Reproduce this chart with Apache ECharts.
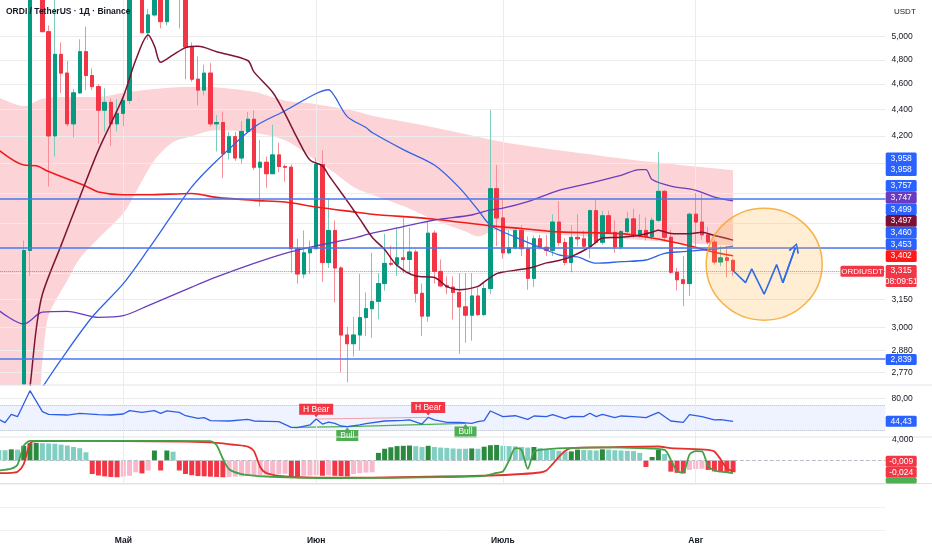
<!DOCTYPE html>
<html><head><meta charset="utf-8">
<script src="https://cdn.jsdelivr.net/npm/echarts@6/dist/echarts.min.js"></script>
<style>html,body{margin:0;padding:0;background:#fff}#c{width:932px;height:550px}</style>
</head><body><div id="c"></div>
<script>
// ---------- DATA ----------
const categories = [];
for (let k = 0; k < 143; k++) { const d = new Date(Date.UTC(2025, 3, 11 + k)); categories.push(d.toISOString().slice(0, 10)); }
const monthLabels = {'2025-05-01': 'Май', '2025-06-01': 'Июн', '2025-07-01': 'Июль', '2025-08-01': 'Авг'};
const candleStart = 4;
// [open, high, low, close]
const candles = [
[2.715,3.495,2.712,3.434],[3.434,5.450,3.285,5.420],[5.420,5.800,5.380,5.650],[5.650,5.700,5.040,5.044],
[5.044,5.100,3.842,4.200],[4.200,5.350,4.050,4.847],[4.847,4.950,4.530,4.690],[4.690,4.792,4.270,4.290],
[4.290,4.560,4.190,4.530],[4.530,4.977,4.520,4.870],[4.870,5.089,4.552,4.670],[4.670,4.728,4.552,4.580],
[4.580,4.600,4.143,4.394],[4.394,4.566,4.233,4.455],[4.455,4.486,4.126,4.290],[4.290,4.480,4.233,4.370],
[4.370,4.510,4.270,4.470],[4.470,5.480,4.440,5.420],[5.420,5.700,5.380,5.550],[5.550,5.600,5.030,5.035],
[5.035,5.250,4.971,5.195],[5.195,5.500,5.180,5.400],[5.400,5.450,5.074,5.134],[5.134,5.500,5.100,5.420],
[5.420,5.600,5.380,5.500],[5.500,5.650,5.074,5.450],[5.450,5.500,4.640,4.910],[4.910,4.950,4.620,4.640],
[4.640,4.829,4.432,4.552],[4.552,4.760,4.510,4.690],[4.690,4.773,4.270,4.290],[4.290,4.357,4.087,4.300],
[4.300,4.383,3.899,4.070],[4.080,4.230,4.030,4.194],[4.194,4.230,4.020,4.040],[4.040,4.310,4.000,4.233],
[4.233,4.380,4.233,4.325],[4.325,4.394,3.954,3.975],[3.975,4.170,3.710,4.010],[4.010,4.050,3.834,3.930],
[3.930,4.284,3.930,4.062],[4.062,4.150,3.940,3.980],[3.980,3.995,3.875,3.975],[3.975,3.995,3.303,3.445],
[3.445,3.505,3.240,3.295],[3.295,3.557,3.270,3.420],[3.420,3.495,3.295,3.445],[3.445,4.042,3.440,3.994],
[3.994,4.096,3.250,3.362],[3.362,3.762,3.330,3.557],[3.557,3.620,3.135,3.330],[3.330,3.340,2.772,2.960],
[2.960,3.003,2.724,2.915],[2.915,3.057,2.850,2.960],[2.960,3.295,2.880,3.052],[3.052,3.190,2.955,3.100],
[3.100,3.420,2.945,3.140],[3.140,3.300,3.043,3.240],[3.240,3.536,3.200,3.357],[3.357,3.462,3.340,3.352],
[3.352,3.576,3.283,3.390],[3.390,3.640,3.300,3.380],[3.380,3.576,3.300,3.425],[3.425,3.440,3.134,3.185],
[3.185,3.240,2.955,3.060],[3.060,3.610,3.030,3.540],[3.540,3.557,3.240,3.310],[3.310,3.380,3.220,3.227],
[3.227,3.280,3.180,3.220],[3.220,3.280,3.042,3.190],[3.190,3.300,2.864,3.110],[3.110,3.300,2.920,3.065],
[3.065,3.300,2.930,3.170],[3.170,3.220,3.060,3.068],[3.068,3.250,3.060,3.212],[3.212,4.394,3.180,3.828],
[3.828,3.990,3.460,3.636],[3.636,3.762,3.385,3.420],[3.420,3.560,3.410,3.450],[3.450,3.575,3.440,3.557],
[3.557,3.590,3.400,3.445],[3.445,3.520,3.205,3.270],[3.270,3.525,3.220,3.505],[3.505,3.530,3.440,3.453],
[3.453,3.530,3.400,3.435],[3.435,3.660,3.400,3.610],[3.610,3.745,3.460,3.482],[3.482,3.510,3.345,3.362],
[3.362,3.590,3.305,3.514],[3.514,3.660,3.460,3.505],[3.505,3.557,3.447,3.460],[3.460,3.690,3.387,3.683],
[3.683,3.760,3.470,3.484],[3.484,3.683,3.470,3.650],[3.650,3.683,3.536,3.545],[3.545,3.621,3.420,3.455],
[3.455,3.560,3.440,3.550],[3.550,3.675,3.540,3.630],[3.630,3.695,3.510,3.526],[3.526,3.660,3.510,3.557],
[3.557,3.640,3.495,3.520],[3.520,3.640,3.500,3.621],[3.621,4.084,3.610,3.810],[3.810,3.820,3.490,3.515],
[3.515,3.560,3.295,3.305],[3.305,3.330,3.201,3.262],[3.262,3.400,3.114,3.240],[3.240,3.670,3.170,3.660],
[3.660,3.800,3.460,3.610],[3.610,3.795,3.500,3.530],[3.530,3.580,3.470,3.485],[3.485,3.500,3.350,3.365],
[3.365,3.460,3.340,3.390],[3.390,3.462,3.275,3.375],[3.375,3.385,3.285,3.315]
];
const maroonLine = [[4,2.50],[5,2.70],[6,2.99],[7,3.18],[10,3.465],[13,3.77],[16,4.096],[20,4.50],[22,4.80],[24,5.015],[25,4.92],[26,4.78],[28,4.842],[30,4.905],[32,4.917],[35,4.87],[40,4.795],[41,4.70],[44,4.535],[46,4.365],[48,4.18],[50,4.025],[52,3.985],[53,3.92],[56,3.745],[58,3.63],[60,3.515],[62,3.44],[64,3.345],[67,3.283],[70,3.275],[72,3.224],[74,3.205],[77,3.224],[78,3.25],[80,3.297],[81,3.306],[84,3.322],[86,3.336],[88,3.36],[90,3.374],[92,3.397],[95,3.455],[97,3.51],[100,3.515],[103,3.527],[105,3.546],[106,3.558],[108,3.538],[111,3.536],[113,3.546],[115,3.525],[118,3.497]];
const blueLine = [[6,2.65],[7,2.70],[10,2.835],[15,3.055],[20,3.24],[24,3.44],[28,3.665],[31,3.84],[35,4.02],[41,4.265],[46,4.39],[51,4.525],[53,4.555],[54,4.50],[56,4.345],[59,4.262],[60,4.225],[65,4.10],[70,3.99],[74,3.835],[77,3.688],[79,3.59],[83,3.515],[86,3.468],[90,3.408],[93,3.395],[96,3.358],[100,3.367],[104,3.377],[107,3.417],[110,3.427],[113,3.437],[116,3.447],[118,3.46]];
const purpleLine = [[0,3.09],[4,3.018],[7,3.081],[11,3.086],[16,3.053],[20,3.062],[24,3.117],[31,3.22],[35,3.278],[41,3.357],[46,3.417],[51,3.462],[57,3.509],[60,3.54],[65,3.581],[70,3.623],[76,3.655],[79,3.688],[81,3.699],[85,3.742],[90,3.817],[95,3.866],[100,3.919],[103,3.958],[104,3.958],[105,3.89],[108,3.845],[112,3.817],[115,3.772],[118,3.747]];
const redLine = [[0,4.096],[4,3.99],[6,3.985],[8,3.945],[14,3.845],[16,3.806],[20,3.787],[24,3.787],[31,3.796],[35,3.77],[41,3.75],[46,3.739],[51,3.707],[57,3.675],[60,3.66],[70,3.628],[79,3.586],[84,3.569],[90,3.548],[100,3.537],[105,3.51],[111,3.463],[115,3.423],[118,3.402]];
const bandUpper = [[0,4.493],[4,4.426],[7,4.484],[11,4.498],[16,4.498],[21,4.538],[31,4.578],[35,4.573],[41,4.538],[46,4.467],[51,4.441],[57,4.389],[60,4.351],[70,4.263],[81,4.156],[90,4.096],[105,4.011],[118,3.954]];
const bandLower = [[0,2.60],[6,2.65],[7,2.829],[8,3.063],[11,3.258],[13,3.386],[16,3.507],[20,3.666],[22,3.803],[25,4.024],[28,4.155],[30,4.185],[35,4.242],[40,4.23],[46,4.168],[50,4.053],[54,3.935],[57,3.84],[60,3.788],[65,3.713],[70,3.623],[75,3.55],[77,3.52],[80,3.56],[90,3.53],[100,3.505],[110,3.48],[118,3.466]];
const hLevels = [3.757, 3.453, 2.839];
const lastPrice = 3.315;
const priceTicks = [5.0,4.8,4.6,4.4,4.2,4.0,3.8,3.6,3.45,3.3,3.15,3.0,2.88,2.77];
const priceTickLabels = ['5,000','4,800','4,600','4,400','4,200','','','','','','3,150','3,000','2,880','2,770'];
const zigzag = [[118,3.315],[120,3.245],[121,3.325],[123,3.180],[125,3.350],[126,3.245],[128,3.450]];
const circleCenter = [123, 3.352];
const rsi = [[0,47.7],[1,42.5],[2,55.5],[3,51.8],[5,92.3],[7,59.6],[8,55.5],[11,54.4],[13,57.1],[16,54.9],[18,54.4],[20,56.0],[21,61.2],[23,58.6],[25,61.2],[26,57.1],[27,60.7],[29,58.6],[30,53.3],[32,49.3],[33,50.3],[34,45.6],[37,45.1],[40,47.7],[41,45.1],[43,44.6],[45,44.0],[47,35.3],[48,34.7],[50,38.9],[51,48.2],[52,40.4],[53,43.5],[54,41.5],[55,37.3],[56,36.2],[58,38.9],[59,40.9],[62,45.1],[65,46.2],[66,46.7],[68,40.4],[69,50.8],[70,46.7],[72,43.0],[74,43.0],[76,41.5],[77,44.0],[78,45.6],[79,60.7],[81,51.8],[83,53.3],[85,47.7],[86,52.9],[88,51.8],[89,54.9],[91,48.7],[92,52.4],[94,51.8],[95,57.1],[96,51.8],[97,55.5],[99,50.3],[100,52.9],[102,51.8],[104,50.3],[106,58.6],[108,45.1],[110,43.0],[111,54.9],[113,51.8],[115,46.7],[116,47.2],[118,44.43]];
const bearDiv = [[51,48.2],[69,50.8]];
const bullDivs = [[[47,35.3],[56,36.2]], [[56,36.2],[75,41.5]]];
const hist = [1.8,1.75,1.9,1.85,2.5,2.95,3.0,2.95,2.9,2.85,2.7,2.55,2.3,2.1,1.4,
-2.3,-2.55,-2.7,-2.8,-2.85,-2.75,-2.6,-2.0,-2.2,-1.7,
1.7,-1.7,1.7,1.5,-1.7,-2.3,-2.5,-2.65,-2.7,-2.75,-2.8,-2.85,-2.8,-2.75,-2.7,-2.6,-2.55,-2.45,-2.4,-2.35,-2.3,-2.25,-2.7,-2.75,-2.6,-2.55,-2.5,-2.6,-2.5,-2.6,-2.65,-2.7,-2.3,-2.15,-2.05,-2.0,
1.3,2.0,2.25,2.45,2.5,2.55,2.45,2.3,2.5,2.3,2.2,2.15,2.05,2.0,2.0,2.05,2.0,2.35,2.6,2.65,2.5,2.45,2.4,2.3,2.2,2.3,2.1,1.95,1.8,1.65,1.5,1.55,1.85,1.8,1.75,1.7,1.9,1.85,1.75,1.7,1.65,1.6,1.3,
-1.1,0.6,1.8,1.1,-1.9,-2.1,-2.2,-1.6,-1.45,-1.4,-1.6,-1.85,-1.9,-1.95,-2.0];
const oscRed = [[0,-2.15],[2,-2.1],[3,-1.9],[4,-0.6],[5,2.9],[6,3.3],[10,3.35],[20,3.3],[30,3.2],[35,3.0],[38,2.65],[40,2.35],[41,1.6],[42,-1.1],[43,-2.15],[46,-2.72],[51,-2.9],[60,-2.9],[71,-2.72],[79,-2.55],[84,-2.3],[87,-2.04],[88,-1.7],[89,-0.6],[90,0.6],[91,1.6],[92,2.1],[98,2.25],[106,2.38],[108,2.1],[114,1.82],[115,1.53],[116,0.2],[117,-1.3],[118,-1.9]];
const oscGreen = [[0,-1.7],[2,-1.4],[3,-0.7],[4,2.5],[5,3.35],[20,3.35],[34,3.3],[35,2.6],[36,0.3],[37,-1.5],[39,-2.3],[43,-2.72],[48,-2.9],[54,-3.0],[71,-2.83],[78,-2.6],[80,-2.1],[81,-1.87],[82,0.0],[83,2.1],[84,1.8],[85,-1.4],[86,1.5],[87,1.82],[91,2.1],[98,2.24],[103,2.1],[107,1.82],[108,0.1],[109,-1.8],[110,-2.04],[111,1.0],[112,1.6],[113,1.55],[114,-0.9],[115,-1.7],[116,-1.9],[118,-2.15]];
const priceTagLabels = ['3,958','3,958','3,757','3,747','3,499','3,497','3,460','3,453','3,402'];
const lastTagLabels = ['3,315','08:09:51'];
const levelTagLabel = '2,839';
const rsiTagLabel = '44,43';
const oscTagLabels = ['-0,009','-0,024'];

// ---------- BUILD ----------
const FONT = '"Liberation Sans", Arial, sans-serif';
const N = categories.length;
const candleFull = new Array(N).fill('-');
const bodyFull = new Array(N).fill('-');
candles.forEach((c, k) => {
  const [o, h, l, cl] = c;
  candleFull[candleStart + k] = [o, cl, l, h];
  bodyFull[candleStart + k] = [o, cl, Math.min(o, cl), Math.max(o, cl)];
});
const monthIdx = categories.filter(c => monthLabels[c]);
const vLines = monthIdx.map(c => ({xAxis: c, lineStyle: {color: '#ececec', width: 1, type: 'solid'}, label: {show: false}}));
const toCat = p => [categories[p[0]], p[1]];

const gridBase = {left: -4.25, right: 46.5, outerBoundsMode: 'none', containLabel: false};
const grids = [
  Object.assign({top: 0, height: 385}, gridBase),
  Object.assign({top: 385, height: 52}, gridBase),
  Object.assign({top: 437, height: 47}, gridBase),
  Object.assign({top: 484, height: 46}, gridBase)
];
const xAxes = grids.map((g, gi) => ({
  type: 'category', gridIndex: gi, data: categories, boundaryGap: true,
  axisLine: {show: false}, axisTick: {show: false}, splitLine: {show: false},
  axisLabel: gi === 3 ? {show: true, interval: (i, v) => !!monthLabels[v], formatter: v => monthLabels[v] || '',
    color: '#131722', fontSize: 8.5, fontWeight: 'bold', margin: 6, fontFamily: FONT} : {show: false}
}));
const hidden = {axisLine: {show: false}, axisTick: {show: false}, axisLabel: {show: false}, splitLine: {show: false}};
const yAxes = [
  Object.assign({type: 'log', gridIndex: 0, min: 2.711, max: 5.333, logBase: 10}, hidden),
  Object.assign({type: 'value', gridIndex: 1, min: 20.19, max: 101.13}, hidden),
  Object.assign({type: 'value', gridIndex: 2, min: -4, max: 4}, hidden),
  {type: 'value', gridIndex: 3, min: 0, max: 2, interval: 1, axisLine: {show: false}, axisTick: {show: false}, axisLabel: {show: false},
    splitLine: {show: true, lineStyle: {color: '#f1f1f1'}}}
];

const gridLineData = priceTicks.map((v, k) => ({
  yAxis: v, lineStyle: {color: '#ececec', width: 1, type: 'solid'},
  label: {show: !!priceTickLabels[k], formatter: priceTickLabels[k] || '', position: 'end', distance: 6, color: '#131722', fontSize: 8.5, fontFamily: FONT}
})).concat(vLines);

const histColor = p => {
  const i = p.dataIndex, v = hist[i], pv = i > 0 ? hist[i - 1] : v;
  if (v >= 0) return v > pv ? '#2b8a3e' : '#80cfc2';
  return v < pv ? '#f23645' : '#f7b9cb';
};

const series = [
  {type: 'line', xAxisIndex: 0, yAxisIndex: 0, data: bandUpper.map(toCat), symbol: 'none', smooth: 0.3, silent: true, clip: true,
    lineStyle: {opacity: 0}, areaStyle: {color: '#fcd3d6', opacity: 1, origin: 'start'}, z: 0},
  {type: 'line', xAxisIndex: 0, yAxisIndex: 0, data: bandLower.map(toCat), symbol: 'none', smooth: 0.3, silent: true, clip: true,
    lineStyle: {opacity: 0}, areaStyle: {color: '#ffffff', opacity: 1, origin: 'start'}, z: 0,
    markLine: {silent: true, symbol: 'none', z: 1, animation: false, data: gridLineData}},
  {type: 'candlestick', xAxisIndex: 0, yAxisIndex: 0, data: candleFull, barWidth: 3.8, silent: true, z: 2, clip: true,
    itemStyle: {color: '#7ccab9', color0: '#f58e99', borderColor: '#7ccab9', borderColor0: '#f58e99', borderWidth: 1}},
  {type: 'candlestick', xAxisIndex: 0, yAxisIndex: 0, data: bodyFull, barWidth: 3.8, silent: true, z: 3, clip: true,
    itemStyle: {color: '#089981', color0: '#f23645', borderColor: '#089981', borderColor0: '#f23645', borderWidth: 1},
    markLine: {silent: true, symbol: 'none', z: 5, animation: false, label: {show: false},
      data: hLevels.map(v => ({yAxis: v, lineStyle: {color: '#4a77ee', width: 1.5, type: 'solid'}}))
        .concat([{yAxis: lastPrice, lineStyle: {color: '#f23645', width: 1, type: 'dotted', opacity: 0.7}}])}},
  {type: 'line', xAxisIndex: 0, yAxisIndex: 0, data: redLine.map(toCat), symbol: 'none', smooth: 0.3, silent: true, z: 4, clip: true,
    lineStyle: {color: '#f01c1c', width: 1.6}},
  {type: 'line', xAxisIndex: 0, yAxisIndex: 0, data: purpleLine.map(toCat), symbol: 'none', smooth: 0.3, silent: true, z: 4, clip: true,
    lineStyle: {color: '#6a3dc0', width: 1.3}},
  {type: 'line', xAxisIndex: 0, yAxisIndex: 0, data: blueLine.map(toCat), symbol: 'none', smooth: 0.3, silent: true, z: 4, clip: true,
    lineStyle: {color: '#2f62e8', width: 1.3}},
  {type: 'line', xAxisIndex: 0, yAxisIndex: 0, data: maroonLine.map(toCat), symbol: 'none', smooth: 0.3, silent: true, z: 4, clip: true,
    lineStyle: {color: '#7d1435', width: 1.5}},
  {type: 'scatter', xAxisIndex: 0, yAxisIndex: 0, data: [toCat(circleCenter)], symbol: 'circle', symbolSize: [116, 112], silent: true, z: 6,
    itemStyle: {color: 'rgba(255,176,64,0.28)', borderColor: '#f4a21f', borderWidth: 1.5}},
  {type: 'line', xAxisIndex: 0, yAxisIndex: 0, data: zigzag.map(toCat), symbol: 'none', silent: true, z: 7,
    lineStyle: {color: '#2f6be4', width: 1.6},
    markLine: {silent: true, z: 7, animation: false, symbol: ['none', 'path://M0,10 L5,0 L10,10 L8.6,10.9 L5,2.8 L1.4,10.9 Z'], symbolSize: [11, 10],
      label: {show: false}, lineStyle: {color: '#2f6be4', width: 1.6, type: 'solid'},
      data: [[{coord: toCat(zigzag[zigzag.length - 2])}, {coord: toCat(zigzag[zigzag.length - 1])}]]}},
  // RSI pane
  {type: 'line', xAxisIndex: 1, yAxisIndex: 1, data: rsi.map(toCat), symbol: 'none', silent: true, z: 4, clip: true,
    lineStyle: {color: '#2f5ee6', width: 1.3},
    markArea: {silent: true, z: 1, itemStyle: {color: 'rgba(41,98,255,0.08)'}, data: [[{yAxis: 70}, {yAxis: 30}]]},
    markLine: {silent: true, symbol: 'none', z: 3, animation: false, label: {show: false},
      data: [
        {yAxis: 80, lineStyle: {color: '#ececec', type: 'solid', width: 1},
          label: {show: true, formatter: '80,00', position: 'end', distance: 6, color: '#131722', fontSize: 8.5, fontFamily: FONT}},
        {yAxis: 70, lineStyle: {color: '#b8bcc6', type: 'dotted', width: 1}},
        {yAxis: 30, lineStyle: {color: '#b8bcc6', type: 'dotted', width: 1}},
        [{coord: toCat(bearDiv[0]), lineStyle: {color: '#f2a0a8', width: 1, type: 'solid'}}, {coord: toCat(bearDiv[1])}]
      ].concat(bullDivs.map(d => [{coord: toCat(d[0]), lineStyle: {color: '#4caf50', width: 1.3, type: 'solid'}}, {coord: toCat(d[1])}]))
       .concat(vLines)},
    markPoint: {silent: true, z: 6, animation: false,
      data: [
        {coord: toCat(bearDiv[0]), symbol: 'path://M0,0 H34 V11 H19 L17,13.5 L15,11 H0 Z', symbolSize: [34, 13.5], symbolOffset: [0, -8.5],
          itemStyle: {color: '#f23645'}, label: {show: true, formatter: 'H Bear', color: '#fff', fontSize: 8.5, fontFamily: FONT, offset: [0, -1]}},
        {coord: toCat(bearDiv[1]), symbol: 'path://M0,0 H34 V11 H19 L17,13.5 L15,11 H0 Z', symbolSize: [34, 13.5], symbolOffset: [0, -8.5],
          itemStyle: {color: '#f23645'}, label: {show: true, formatter: 'H Bear', color: '#fff', fontSize: 8.5, fontFamily: FONT, offset: [0, -1]}},
        {coord: toCat(bullDivs[0][1]), symbol: 'path://M0,2.5 H9 L11,0 L13,2.5 H22 V13.5 H0 Z', symbolSize: [22, 13.5], symbolOffset: [0, 7.5],
          itemStyle: {color: '#4caf50'}, label: {show: true, formatter: 'Bull', color: '#fff', fontSize: 8.5, fontFamily: FONT, offset: [0, 1]}},
        {coord: toCat(bullDivs[1][1]), symbol: 'path://M0,2.5 H9 L11,0 L13,2.5 H22 V13.5 H0 Z', symbolSize: [22, 13.5], symbolOffset: [0, 7.5],
          itemStyle: {color: '#4caf50'}, label: {show: true, formatter: 'Bull', color: '#fff', fontSize: 8.5, fontFamily: FONT, offset: [0, 1]}}
      ]}},
  // Oscillator pane
  {type: 'bar', xAxisIndex: 2, yAxisIndex: 2, data: hist, barWidth: '80%', silent: true, z: 2,
    itemStyle: {color: histColor},
    markLine: {silent: true, symbol: 'none', z: 3, animation: false, label: {show: false},
      data: [{yAxis: 0, lineStyle: {color: '#b8bcc6', type: 'dashed', width: 1}}].concat(vLines)}},
  {type: 'line', xAxisIndex: 2, yAxisIndex: 2, data: oscRed.map(toCat), symbol: 'none', smooth: 0.25, silent: true, z: 4, clip: true,
    lineStyle: {color: '#e5302d', width: 1.8}},
  {type: 'line', xAxisIndex: 2, yAxisIndex: 2, data: oscGreen.map(toCat), symbol: 'none', smooth: 0.25, silent: true, z: 4, clip: true,
    lineStyle: {color: '#43a047', width: 1.8}}
];

// right-side tags (layout only)
const TX = 885.7, TW = 31, TC = 901.2;
const g = [];
const txt = (x, y, s, opt) => Object.assign({type: 'text', x: x, y: y, z: 101,
  style: Object.assign({text: s, fill: '#fff', fontSize: 8.5, fontFamily: FONT, textAlign: 'center', verticalAlign: 'middle'}, opt || {})});
const rect = (y, h, fill, x, w) => ({type: 'rect', z: 100, shape: {x: x === undefined ? TX : x, y: y, width: w || TW, height: h, r: 1.5}, style: {fill: fill}});
g.push(txt(6, 11.5, 'ORDI / TetherUS · 1Д · Binance', {fill: '#131722', fontWeight: 'bold', textAlign: 'left'}));
g.push(txt(894, 11.5, 'USDT', {fill: '#131722', fontSize: 8, textAlign: 'left'}));
[385, 437, 483.5].forEach(y => g.push({type: 'line', z: 50, shape: {x1: 0, y1: y, x2: 932, y2: y}, style: {stroke: '#e0e3eb', lineWidth: 1}}));
g.push(rect(152.5, 23.5, '#2962ff'));
g.push(txt(TC, 158.4, priceTagLabels[0]));
g.push(txt(TC, 170.1, priceTagLabels[1]));
const rowColors = ['#2962ff', '#6a3bbf', '#2962ff', '#7a1035', '#2962ff', '#2962ff', '#ff1a1a'];
for (let k = 0; k < 7; k++) {
  const y0 = 180 + k * 11.7;
  g.push(rect(y0, 11.7, rowColors[k]));
  g.push(txt(TC, y0 + 5.9, priceTagLabels[k + 2]));
}
g.push(rect(265, 22, '#f23645'));
g.push(txt(TC, 270.7, lastTagLabels[0]));
g.push(txt(TC, 281.2, lastTagLabels[1]));
g.push(rect(265.7, 11, '#f23645', 840.5, 43.5));
g.push(txt(862.2, 271.3, 'ORDIUSDT', {fontSize: 8}));
g.push(rect(354, 11, '#2962ff'));
g.push(txt(TC, 359.6, levelTagLabel));
g.push(rect(415.7, 11, '#2962ff'));
g.push(txt(TC, 421.3, rsiTagLabel));
g.push(txt(892, 439.5, '4,000', {fill: '#131722', textAlign: 'left'}));
g.push(rect(455.7, 11, '#f23645'));
g.push(txt(TC, 461.3, oscTagLabels[0]));
g.push(rect(466.7, 11, '#f23645'));
g.push(txt(TC, 472.3, oscTagLabels[1]));
g.push(rect(477.7, 5.8, '#4caf50'));

const option = {
  animation: false, backgroundColor: '#ffffff', textStyle: {fontFamily: FONT},
  grid: grids, xAxis: xAxes, yAxis: yAxes, series: series, graphic: g
};
const chart = echarts.init(document.getElementById('c'));
chart.setOption(option);
</script></body></html>
